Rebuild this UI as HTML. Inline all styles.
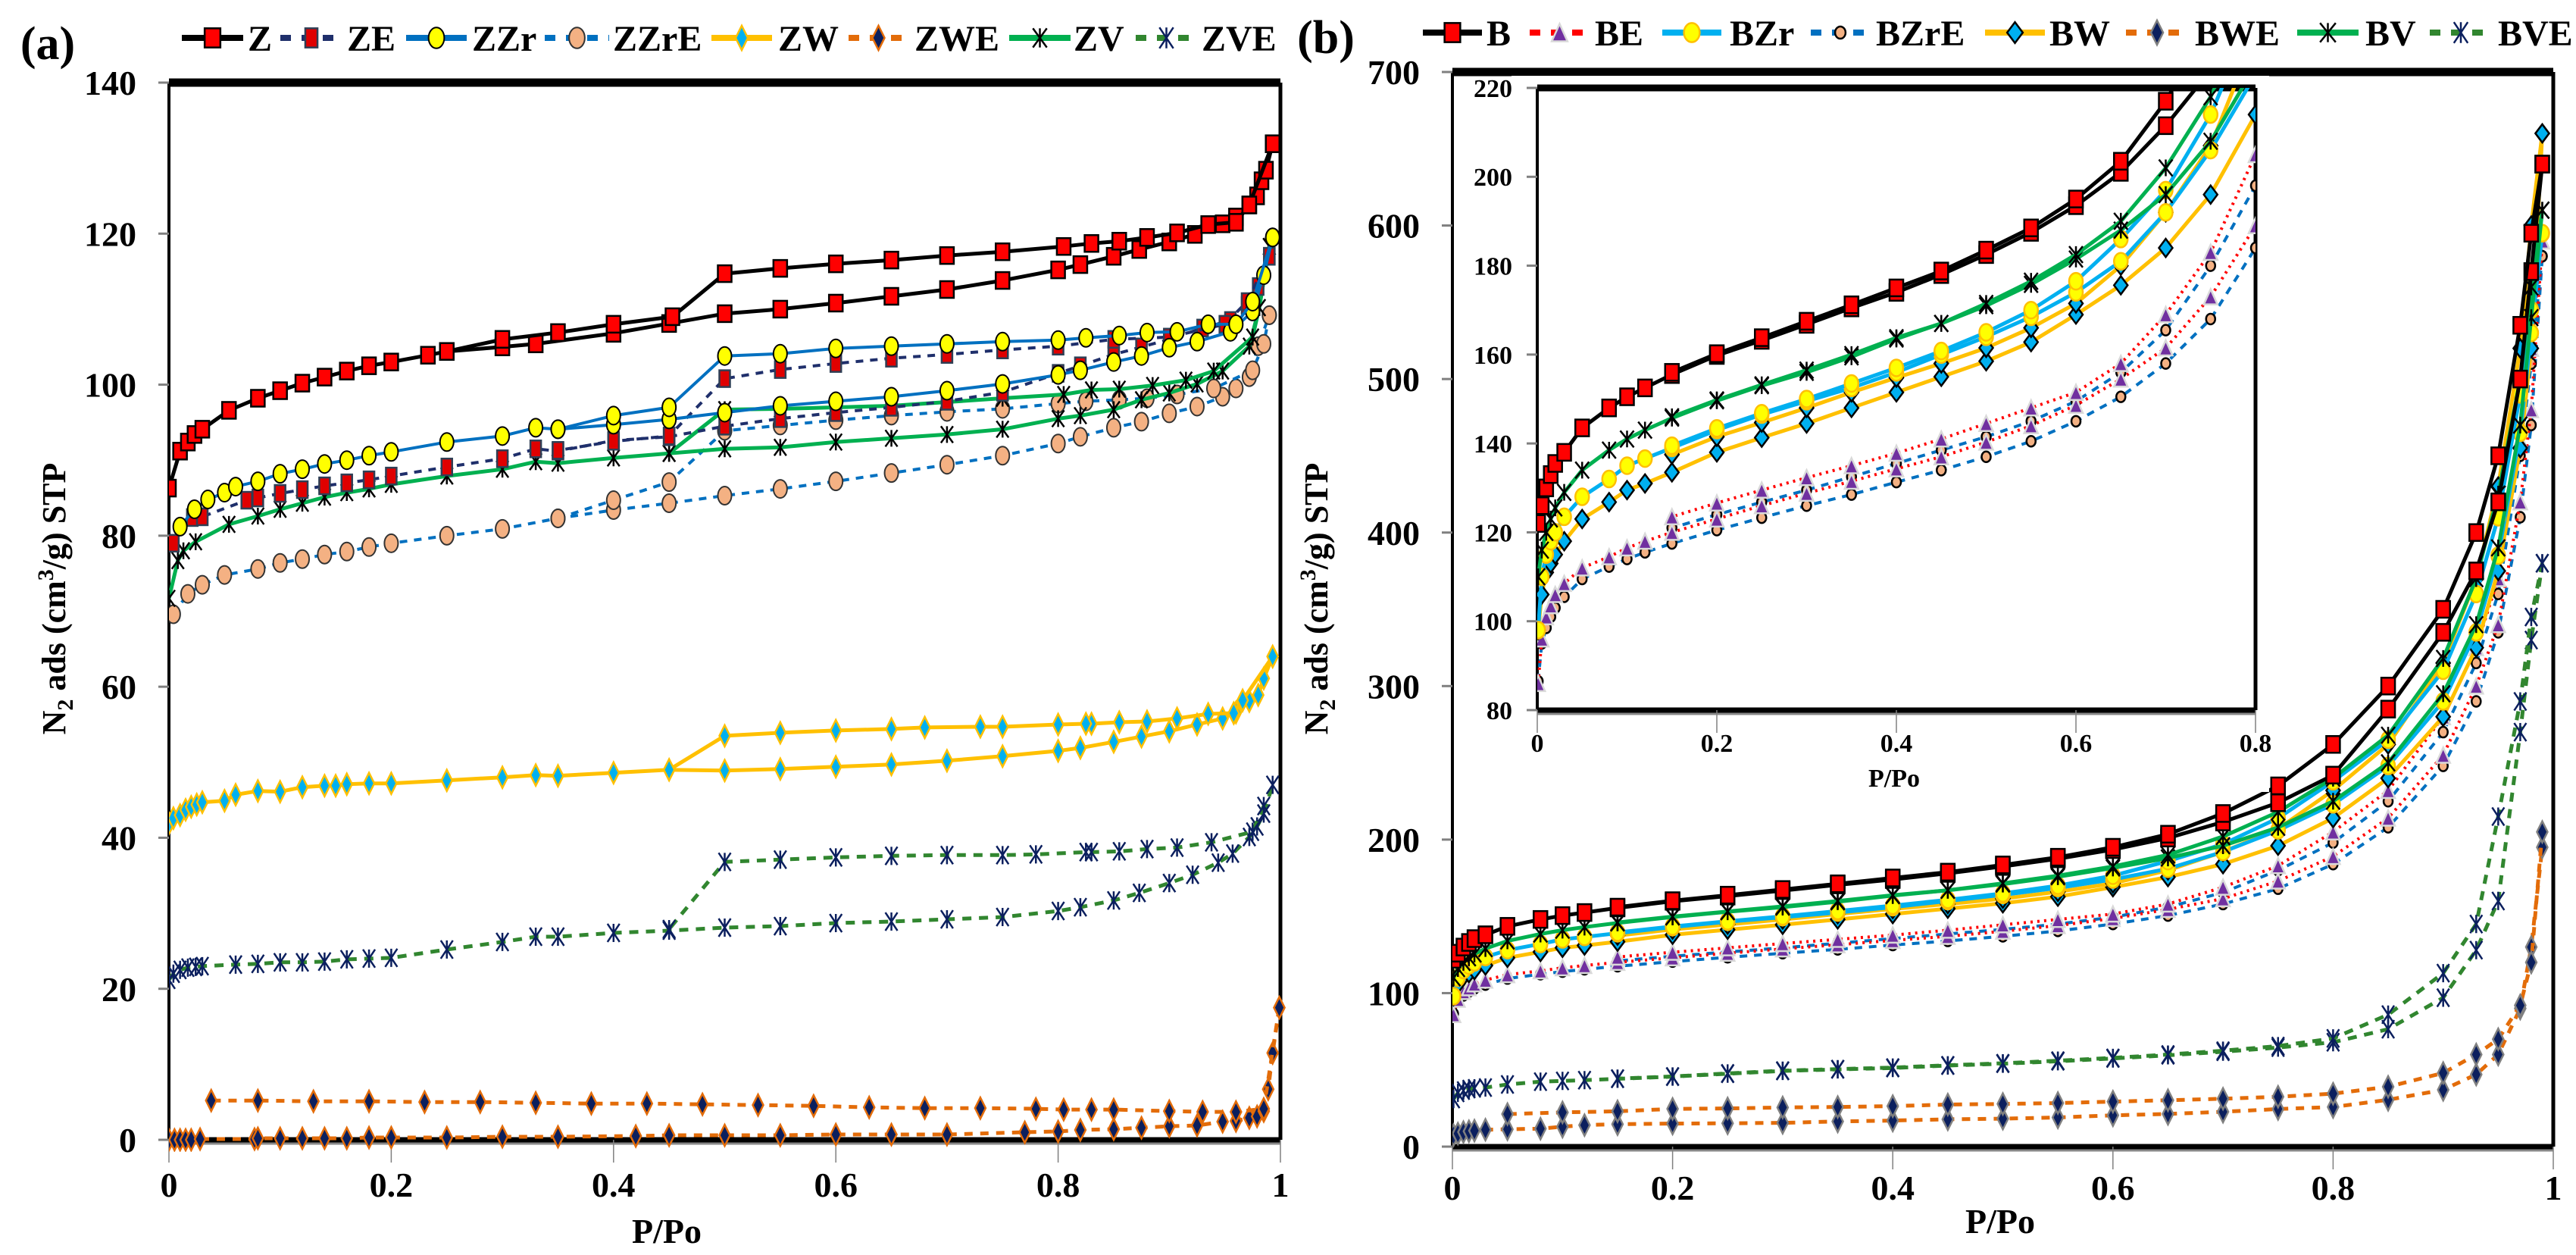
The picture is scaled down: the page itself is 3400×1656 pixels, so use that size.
<!DOCTYPE html>
<html><head><meta charset="utf-8">
<style>
html,body{margin:0;padding:0;background:#fff;}
svg{display:block;font-family:"Liberation Serif",serif;}
</style></head>
<body>
<svg id="chart" width="3400" height="1656" viewBox="0 0 3400 1656" xmlns="http://www.w3.org/2000/svg">
<defs>
<clipPath id="clipA"><rect x="223" y="100" width="1480" height="1420"/></clipPath>
<clipPath id="clipB"><rect x="1917" y="95" width="1460" height="1425"/></clipPath>
<clipPath id="clipI"><rect x="2029" y="116" width="948" height="821"/></clipPath>
</defs>
<g id="layer"></g>
</svg>
<script>
// ---------- Panel (a) data ----------
const zAdsP=[0,0.01,0.017,0.023,0.03,0.054,0.08,0.1,0.12,0.14,0.16,0.18,0.2,0.233,0.25,0.3,0.33,0.4,0.45,0.5,0.55,0.6,0.65,0.7,0.75,0.8,0.82,0.85,0.873,0.9,0.923,0.948,0.96,0.972,0.979,0.983,0.987,0.993];
const zAdsV=[86.3,91.2,92.4,93.4,94.1,96.6,98.2,99.2,100.2,101,101.8,102.5,103,103.9,104.4,105,105.4,106.8,108.1,109.4,110,110.8,111.7,112.6,113.8,115.2,115.9,117,117.9,118.9,119.9,121.3,122.2,123.8,125,127,128.4,131.9];
const zDesP=[0.993,0.972,0.96,0.935,0.907,0.88,0.855,0.83,0.805,0.75,0.7,0.65,0.6,0.55,0.5,0.453,0.4,0.35,0.3,0.25];
const zDesV=[131.9,123.8,121.5,121.2,120.1,119.5,119,118.7,118.3,117.6,117.1,116.5,116,115.4,114.7,109,108,106.9,106,104.4];
const zeAdsP=[0.004,0.021,0.03,0.07,0.08,0.1,0.12,0.14,0.16,0.18,0.2,0.25,0.3,0.33,0.35,0.4,0.45,0.5,0.55,0.6,0.65,0.7,0.75,0.8,0.82,0.85,0.875,0.9,0.93,0.955,0.97,0.98,0.99];
const zeAdsV=[79,82.4,82.5,84.7,85,85.6,86.1,86.6,87,87.4,87.9,89.1,90.2,91.5,91.2,92.6,93.1,94.5,95.5,96.3,97,97.8,99,101.5,102.5,104,105,106,107.5,108.5,110.5,113,117];
const zeDesP=[0.99,0.97,0.95,0.9,0.85,0.8,0.75,0.7,0.65,0.6,0.55,0.5,0.45,0.4,0.35];
const zeDesV=[117,111,108,106.3,106,105.1,104.6,104,103.5,102.8,102,100.8,93.2,92.5,91.3];
const zzrAdsP=[0.01,0.023,0.035,0.05,0.06,0.08,0.1,0.12,0.14,0.16,0.18,0.2,0.25,0.3,0.33,0.35,0.4,0.45,0.5,0.55,0.6,0.65,0.7,0.75,0.8,0.82,0.85,0.875,0.9,0.925,0.955,0.975,0.985,0.993];
const zzrAdsV=[81.2,83.5,84.8,85.7,86.5,87.2,88.2,88.8,89.5,90,90.6,91.1,92.4,93.2,94.3,94.1,94.7,95.4,96.3,97.2,97.8,98.4,99.2,100.1,101.3,101.9,103,103.8,104.9,105.7,107,109.7,114.5,119.5];
const zzrDesP=[0.993,0.975,0.96,0.935,0.907,0.88,0.855,0.825,0.8,0.75,0.7,0.65,0.6,0.55,0.5,0.45,0.4,0.35];
const zzrDesV=[119.5,111,108,108,107,106.9,106.5,106.2,105.9,105.7,105.4,105.1,104.8,104.1,103.8,97,95.9,94.1];
const zzreAdsP=[0.004,0.017,0.03,0.05,0.08,0.1,0.12,0.14,0.16,0.18,0.2,0.25,0.3,0.35,0.4,0.45,0.5,0.55,0.6,0.65,0.7,0.75,0.8,0.82,0.85,0.875,0.9,0.925,0.948,0.96,0.972,0.98,0.99];
const zzreAdsV=[69.6,72.3,73.5,74.8,75.6,76.4,76.9,77.5,77.9,78.5,79,80,80.9,82.3,83.4,84.3,85.3,86.2,87.2,88.3,89.4,90.6,92.2,93.1,94.3,95.1,96.2,97.1,98.4,99.5,101,105.1,109.2];
const zzreDesP=[0.99,0.985,0.975,0.94,0.907,0.88,0.855,0.825,0.8,0.75,0.7,0.65,0.6,0.55,0.5,0.45,0.4,0.35];
const zzreDesV=[109.2,105.4,101.9,99.5,98.7,98.2,98,97.8,97.5,96.8,96.4,95.9,95.3,94.6,93.9,87.1,84.7,82.3];
const zwAdsP=[0,0.004,0.01,0.015,0.02,0.025,0.03,0.05,0.06,0.08,0.1,0.12,0.14,0.15,0.16,0.18,0.2,0.25,0.3,0.33,0.35,0.4,0.45,0.5,0.55,0.6,0.65,0.7,0.75,0.8,0.82,0.85,0.875,0.9,0.925,0.948,0.96,0.972,0.98,0.985,0.993];
const zwAdsV=[41.9,42.6,43,43.7,44.1,44.4,44.7,44.9,45.7,46.2,46.1,46.7,46.9,46.9,47.1,47.2,47.2,47.6,48,48.3,48.2,48.6,49,48.9,49.1,49.4,49.7,50.2,50.8,51.5,51.9,52.7,53.4,54.1,55,55.8,56.6,58.1,58.9,61.1,64];
const zwDesP=[0.993,0.966,0.958,0.935,0.907,0.88,0.855,0.83,0.825,0.8,0.75,0.73,0.68,0.65,0.6,0.55,0.5,0.45];
const zwDesV=[64,58.2,56.5,56.4,55.8,55.4,55.3,55.1,55.1,55,54.7,54.7,54.6,54.4,54.2,53.9,53.5,49];
const zweAdsP=[0,0.005,0.01,0.015,0.02,0.028,0.077,0.08,0.1,0.12,0.14,0.16,0.18,0.2,0.25,0.3,0.35,0.42,0.45,0.5,0.55,0.6,0.65,0.7,0.77,0.8,0.82,0.85,0.875,0.9,0.925,0.948,0.96,0.972,0.979,0.985,0.989,0.993,0.999];
const zweAdsV=[0,0,0,0,0,0.1,0.1,0.2,0.2,0.2,0.2,0.2,0.3,0.3,0.3,0.4,0.4,0.5,0.6,0.6,0.6,0.7,0.7,0.7,1,1.1,1.3,1.4,1.6,1.8,1.9,2.4,2.5,2.9,3.1,3.8,6.7,11.5,17.5];
const zweDesP=[0.999,0.985,0.96,0.93,0.9,0.85,0.83,0.805,0.78,0.73,0.68,0.63,0.58,0.53,0.48,0.43,0.38,0.33,0.28,0.23,0.18,0.13,0.08,0.038];
const zweDesV=[17.5,4.1,3.7,3.7,3.8,4,4,4,4.1,4.2,4.2,4.3,4.5,4.6,4.7,4.8,4.8,4.9,5,5,5.1,5.1,5.2,5.2];
const zvAdsP=[0,0.008,0.013,0.024,0.054,0.08,0.1,0.12,0.14,0.16,0.18,0.2,0.25,0.3,0.33,0.35,0.4,0.45,0.5,0.55,0.6,0.65,0.7,0.75,0.8,0.82,0.85,0.875,0.9,0.925,0.948,0.972,0.981,0.99];
const zvAdsV=[71.7,76.7,78,79.2,81.5,82.6,83.5,84.3,85.1,85.7,86.2,86.8,87.9,88.8,89.8,89.6,90.3,90.9,91.5,91.7,92.4,92.9,93.4,94.1,95.5,95.9,96.7,98,98.9,100.1,101.8,105.1,110.2,118.3];
const zvDesP=[0.99,0.981,0.975,0.94,0.915,0.885,0.855,0.83,0.805,0.75,0.7,0.65,0.6,0.55,0.5,0.45];
const zvDesV=[118.3,110.2,106.3,101.8,100.6,99.9,99.4,99.3,98.7,98.2,97.7,97.2,97,96.8,96.7,90.9];
const zveAdsP=[0,0.004,0.01,0.017,0.024,0.03,0.06,0.08,0.1,0.12,0.14,0.16,0.18,0.2,0.25,0.3,0.33,0.35,0.4,0.45,0.5,0.55,0.6,0.65,0.7,0.75,0.8,0.82,0.85,0.873,0.9,0.921,0.944,0.957,0.972,0.979,0.985,0.993];
const zveAdsV=[21.2,22,22.5,22.8,22.9,23,23.2,23.3,23.5,23.5,23.6,23.9,24,24.1,25.2,26.2,26.9,26.9,27.4,27.7,28.1,28.3,28.7,28.9,29.2,29.5,30.3,30.8,31.7,32.7,34,35.1,36.7,37.9,40.1,41.5,43.2,47];
const zveDesP=[0.985,0.975,0.938,0.907,0.88,0.855,0.83,0.825,0.78,0.75,0.7,0.65,0.6,0.55,0.5,0.45];
const zveDesV=[44.2,40.8,39.4,38.7,38.5,38.2,38.1,38.1,37.8,37.7,37.7,37.6,37.4,37.1,36.8,27.9];

// ---------- Panel (b) data ----------
const pA=[0.001,0.005,0.01,0.015,0.02,0.03,0.05,0.08,0.1,0.12,0.15,0.2,0.25,0.3,0.35,0.4,0.45,0.5,0.55,0.6,0.65,0.7,0.75,0.8,0.85,0.9,0.93,0.95,0.97,0.98,0.99];
const pD=[0.99,0.98,0.97,0.95,0.93,0.9,0.85,0.8,0.75,0.7,0.65,0.6,0.55,0.5,0.45,0.4,0.35,0.3,0.25,0.2,0.15];
const pDwe=[0.99,0.98,0.97,0.95,0.93,0.9,0.85,0.8,0.75,0.7,0.65,0.6,0.55,0.5,0.45,0.4,0.35,0.3,0.25,0.2,0.15,0.1,0.05];
const bAdsV=[122,126,130,133,135.5,138,143.5,148,150.5,152.5,155.5,159.8,163.2,166.8,170.5,174,178,182.5,187.5,193.5,201,211.5,224,242,285,335,375,420,500,570,640];
const bDesV=[640,595,535,450,400,350,300,262,235,217,203.5,195,188.5,183.5,178.8,175,171.2,167.5,163.8,160.2,156];
const beAdsV=[86,96,101,103.5,106,108.5,112,114.5,116.5,118,120,123,126,128.8,131.5,134.3,137,140.3,144,148.6,154.5,161.5,173,189,214,255,300,340,420,480,590];
const beDesV=[590,520,460,370,325,280,232,205,183,169,158,151.5,148,144.5,141,137.8,135,132.3,129.5,126.6,123.5];
const bzrAdsV=[98,110,115,118,120,123.5,128,132,135,136.6,139,143,146.5,149.5,152.5,156,160,164,168.5,174,181,192,206,223,248,290,335,385,465,530,595];
const bzrDesV=[595,545,490,410,360,310,265,238,214,197,186,176.5,170,165,160.8,157,153.5,150,146.8,143.4,139.5];
const bzreAdsV=[86.5,95,98.5,101,103,105.5,109.5,112.3,114,115.5,117.5,120.5,123.3,126,128.5,131.3,134,137,140.5,145,150.5,158,168,184,208,248,290,335,410,470,580];
const bzreDesV=[580,510,450,360,315,270,225,198,180,165.5,156,149.5,145,141.5,138.5,135.5,132.5,129.5,126.8,124,121];
const bwAdsV=[98,106,111,113,115,118,123,126.8,129.5,131,133.5,138,141.3,144.5,148,151.5,155,158.5,162.8,169,175.6,184,196,214,240,280,325,375,455,520,660];
const bwDesV=[660,600,520,430,370,315,262,232,207,192,180,171.5,166,161.5,158,154.8,151.5,148,144.7,141.5,137.5];
const bweAdsV=[7.5,8.5,9.5,10,10.4,11,11.3,11.7,13,14,14.6,15,15.2,15.5,16.4,17,17.8,18.2,19,20.4,21.3,22.7,24.5,25.8,30.5,37,47,60,90,130,195];
const bweDesV=[205,120,92,70,60,48,39,34.5,32.5,31.2,30.2,29.3,28.4,27.8,27.4,26.4,25.8,25.5,24.9,24.6,23,22.3,21.2];
const bvAdsV=[110,116,120,123,125.5,129,134,138.5,141,143,145.7,149.6,153,156,159.5,163.5,167,171,175.8,181.5,188,196,208,225,250,295,340,390,470,540,610];
const bvDesV=[610,560,500,425,370,318,268,240,218,202,190,182.5,176.5,171.5,167,163.8,160,156.5,153.2,149.8,146];
const bveAdsV=[31,35,36.5,37.5,38,38.5,40.5,42.3,42.8,43.3,44.2,45.6,47.5,49.3,50.3,51.2,52.8,54,55.6,57.4,59.5,61.8,64.5,68,76.5,97,128,160,270,330,380];
const bveDesV=[380,345,290,215,145,113,86,70.5,65.5,62.5,60,57.8,56,54.3,53,51.5,50.5,49.5,47.7,45.7,44.3];

// tick label arrays
const aYTicks=[0,20,40,60,80,100,120,140];
const xTicks=[0,0.2,0.4,0.6,0.8,1];
const bYTicks=[0,100,200,300,400,500,600,700];
const iYTicks=[80,100,120,140,160,180,200,220];
const iXTicks=[0,0.2,0.4,0.6,0.8];

const NS='http://www.w3.org/2000/svg';
const root=document.getElementById('layer');
function el(tag,attrs,parent){const e=document.createElementNS(NS,tag);for(const k in attrs)e.setAttribute(k,attrs[k]);(parent||root).appendChild(e);return e;}

const AX={x0:223,x1:1690,xmax:1,yb:1504,yt:109,vmin:0,vmax:140};
const BX={x0:1917,x1:3370,xmax:1,yb:1513,yt:95,vmin:0,vmax:700};
const IX={x0:2029,x1:2977,xmax:0.8,yb:937,yt:116,vmin:80,vmax:220};
function sx(ax,p){return ax.x0+p/ax.xmax*(ax.x1-ax.x0);}
function sy(ax,v){return ax.yb-(v-ax.vmin)/(ax.vmax-ax.vmin)*(ax.yb-ax.yt);}

function marker(g,m,x,y,sc){
  const s=sc||1;let e;
  if(m.t==='square'){e=el('rect',{x:x-m.w*s/2,y:y-m.h*s/2,width:m.w*s,height:m.h*s,fill:m.fill,stroke:m.stroke,'stroke-width':m.sw},g);}
  else if(m.t==='circle'){e=el('ellipse',{cx:x,cy:y,rx:m.w*s/2,ry:m.h*s/2,fill:m.fill,stroke:m.stroke,'stroke-width':m.sw},g);}
  else if(m.t==='diamond'){const a=m.w*s/2,b=m.h*s/2;e=el('polygon',{points:`${x},${y-b} ${x+a},${y} ${x},${y+b} ${x-a},${y}`,fill:m.fill,stroke:m.stroke,'stroke-width':m.sw},g);}
  else if(m.t==='triangle'){const a=m.w*s/2,b=m.h*s/2;e=el('polygon',{points:`${x},${y-b} ${x+a},${y+b} ${x-a},${y+b}`,fill:m.fill,stroke:m.stroke,'stroke-width':m.sw},g);}
  else {const a=m.w*s/2,b=m.h*s/2;e=el('path',{d:`M${x-a},${y-b}L${x+a},${y+b}M${x-a},${y+b}L${x+a},${y-b}M${x},${y-b}L${x},${y+b}`,fill:'none',stroke:m.stroke,'stroke-width':m.sw},g);}
  
  
}
function branch(g,ax,P,V,st,sc,name){
  const pts=P.map((p,i)=>sx(ax,p).toFixed(1)+','+sy(ax,V[i]).toFixed(1)).join(' ');
  const l=el('polyline',{points:pts,fill:'none',stroke:st.color,'stroke-width':st.w,'stroke-dasharray':st.dash||'none','stroke-linejoin':'round'},g);
  
  
  P.forEach((p,i)=>marker(g,st.m,sx(ax,p),sy(ax,V[i]),sc));
}

// styles
const ST={
 Z:{color:'#000',w:5,m:{t:'square',w:18,h:22,fill:'#ff0000',stroke:'#000',sw:2.5}},
 ZE:{color:'#1f2f6b',w:4,dash:'10,9',m:{t:'square',w:14,h:22,fill:'#e00000',stroke:'#2f3f55',sw:2.5}},
 ZZr:{color:'#0070c0',w:4,m:{t:'circle',w:18,h:24,fill:'#ffff00',stroke:'#000',sw:2}},
 ZZrE:{color:'#0070c0',w:4,dash:'10,9',m:{t:'circle',w:18,h:24,fill:'#f4b183',stroke:'#333',sw:2}},
 ZW:{color:'#ffc000',w:5,m:{t:'diamond',w:14,h:28,fill:'#00b0f0',stroke:'#ffc000',sw:2.5}},
 ZWE:{color:'#e36c09',w:5,dash:'11,10',m:{t:'diamond',w:14,h:28,fill:'#0b1f5e',stroke:'#e36c09',sw:2.5}},
 ZV:{color:'#00b050',w:5,m:{t:'star',w:16,h:22,stroke:'#000',sw:2.5}},
 ZVE:{color:'#31862f',w:5,dash:'12,10',m:{t:'star',w:16,h:24,stroke:'#0b1f5e',sw:2.5}},
 B:{color:'#000',w:5,m:{t:'square',w:18,h:22,fill:'#ff0000',stroke:'#000',sw:2.5}},
 BE:{color:'#ff0000',w:4,dash:'3,6',m:{t:'triangle',w:18,h:20,fill:'#7030a0',stroke:'#d9d9d9',sw:2.5}},
 BZr:{color:'#00b0f0',w:5,m:{t:'circle',w:18,h:22,fill:'#ffff00',stroke:'#ffc000',sw:2.5}},
 BZrE:{color:'#0070c0',w:4,dash:'10,9',m:{t:'circle',w:12,h:14,fill:'#f4b183',stroke:'#000',sw:2.5}},
 BW:{color:'#ffc000',w:5,m:{t:'diamond',w:18,h:24,fill:'#00b0f0',stroke:'#000',sw:2.5}},
 BWE:{color:'#e36c09',w:5,dash:'11,10',m:{t:'diamond',w:14,h:28,fill:'#0b1f5e',stroke:'#808080',sw:2.5}},
 BV:{color:'#00b050',w:5,m:{t:'star',w:18,h:22,stroke:'#000',sw:2.5}},
 BVE:{color:'#31862f',w:5,dash:'12,10',m:{t:'star',w:16,h:24,stroke:'#0b1f5e',sw:2.5}}
};

function text(x,y,s,size,anchor,name,extra){
  const t=el('text',Object.assign({x:x,y:y,'font-size':size,'font-weight':'bold','text-anchor':anchor||'middle',fill:'#000'},extra||{}));
  t.textContent=s;
  
  
  return t;
}

function frame(ax,name,thinTop){
  const g=el('g',{});
  
  
  el('line',{x1:ax.x0,y1:ax.yt,x2:ax.x1,y2:ax.yt,stroke:'#000','stroke-width':thinTop?9:11},g);
  el('line',{x1:ax.x1,y1:ax.yt,x2:ax.x1,y2:ax.yb,stroke:'#000','stroke-width':5},g);
  el('line',{x1:ax.x0,y1:ax.yt,x2:ax.x0,y2:ax.yb,stroke:'#000','stroke-width':4},g);
  el('line',{x1:ax.x0,y1:ax.yb,x2:ax.x1,y2:ax.yb,stroke:'#000','stroke-width':7},g);
  el('line',{x1:ax.x0,y1:ax.yb+5,x2:ax.x1,y2:ax.yb+5,stroke:'#888','stroke-width':3},g);
  return g;
}
function yTicks(ax,ticks,size,labelX,name){
  ticks.forEach(v=>{
    const y=sy(ax,v);
    el('line',{x1:ax.x0-14,y1:y,x2:ax.x0,y2:y,stroke:'#808080','stroke-width':3});
    text(labelX,y+size*0.35,String(v),size,'end',name);
  });
}
function xTickMarks(ax,ticks,size,labelY,name){
  ticks.forEach(p=>{
    const x=sx(ax,p);
    el('line',{x1:x,y1:ax.yb,x2:x,y2:ax.yb+30,stroke:'#808080','stroke-width':1.5});
    text(x,labelY,String(p),size,'middle',name);
  });
}

// ===== Panel (a) =====
frame(AX,'panel-a-frame');
yTicks(AX,aYTicks,46,180,'y-tick-label-a');
xTickMarks(AX,xTicks,46,1579,'x-tick-label-a');
text(880,1640,'P/Po',46,'middle','x-axis-title-a');
{const t=el('text',{x:0,y:0,'font-size':44,'font-weight':'bold','text-anchor':'middle',transform:'translate(86,790) rotate(-90)'});
 t.innerHTML='N<tspan font-size="30" dy="10">2</tspan><tspan dy="-10"> ads (cm</tspan><tspan font-size="30" dy="-16">3</tspan><tspan dy="16">/g) STP</tspan>';
 
 }
text(63,78,'(a)',62,'middle','panel-a-label');

const gA=el('g',{'clip-path':'url(#clipA)'});


const seriesA=[
 ['ZWE',zweAdsP,zweAdsV,zweDesP,zweDesV],['ZVE',zveAdsP,zveAdsV,zveDesP,zveDesV],['ZW',zwAdsP,zwAdsV,zwDesP,zwDesV],
 ['ZZrE',zzreAdsP,zzreAdsV,zzreDesP,zzreDesV],['ZV',zvAdsP,zvAdsV,zvDesP,zvDesV],['ZE',zeAdsP,zeAdsV,zeDesP,zeDesV],
 ['ZZr',zzrAdsP,zzrAdsV,zzrDesP,zzrDesV],['Z',zAdsP,zAdsV,zDesP,zDesV]];
seriesA.forEach(s=>{
  const g=el('g',{},gA);
  
  
  branch(g,AX,s[1],s[2],ST[s[0]],1,s[0].toLowerCase()+'-adsorption');
  branch(g,AX,s[3],s[4],ST[s[0]],1,s[0].toLowerCase()+'-desorption');
});

// legend helper
function legendEntry(x1,x2,tx,y,key,name){
  const g=el('g',{});
  
  
  const st=ST[key];
  el('line',{x1:x1,y1:y,x2:x2,y2:y,stroke:st.color,'stroke-width':8,'stroke-dasharray':st.dash?'14,14':'none'},g);
  marker(g,st.m,(x1+x2)/2,y,1.15);
  const t=el('text',{x:tx,y:y+17,'font-size':48,'font-weight':'bold',fill:'#000'},g);
  t.textContent=key;
}
const legA=[['Z',240,321,327],['ZE',370,452,458],['ZZr',536,616,623],['ZZrE',719,804,809],['ZW',939,1019,1027],['ZWE',1120,1199,1207],['ZV',1332,1413,1417],['ZVE',1499,1580,1586]];
legA.forEach(l=>legendEntry(l[1],l[2],l[3],50,l[0],'legend-entry-'+l[0].toLowerCase()));

// ===== Panel (b) =====
frame(BX,'panel-b-frame');
yTicks(BX,bYTicks,46,1874,'y-tick-label-b');
xTickMarks(BX,xTicks,46,1583,'x-tick-label-b');
text(2640,1627,'P/Po',46,'middle','x-axis-title-b');
{const t=el('text',{x:0,y:0,'font-size':44,'font-weight':'bold','text-anchor':'middle',transform:'translate(1752,790) rotate(-90)'});
 t.innerHTML='N<tspan font-size="30" dy="10">2</tspan><tspan dy="-10"> ads (cm</tspan><tspan font-size="30" dy="-16">3</tspan><tspan dy="16">/g) STP</tspan>';
 
 }
text(1750,70,'(b)',62,'middle','panel-b-label');

const seriesB=[
 ['BWE',bweAdsV,pDwe,bweDesV],['BVE',bveAdsV,pD,bveDesV],['BZrE',bzreAdsV,pD,bzreDesV],['BE',beAdsV,pD,beDesV],
 ['BW',bwAdsV,pD,bwDesV],['BZr',bzrAdsV,pD,bzrDesV],['BV',bvAdsV,pD,bvDesV],['B',bAdsV,pD,bDesV]];
const gB=el('g',{'clip-path':'url(#clipB)'});


seriesB.forEach(s=>{
  const g=el('g',{},gB);
  
  
  branch(g,BX,pA,s[1],ST[s[0]],1,s[0].toLowerCase()+'-adsorption');
  branch(g,BX,s[2],s[3],ST[s[0]],1,s[0].toLowerCase()+'-desorption');
});

// inset
const ib=el('rect',{x:1995,y:100,width:1000,height:945,fill:'#fff'});


frame(IX,'inset-frame',true);
yTicks(IX,iYTicks,34,1996,'inset-y-tick-label');
xTickMarks(IX,iXTicks,34,992,'inset-x-tick-label');
text(2500,1038,'P/Po',34,'middle','inset-x-axis-title');
const gI=el('g',{'clip-path':'url(#clipI)'});


seriesB.forEach(s=>{
  if(s[0]==='BWE'||s[0]==='BVE')return;
  const g=el('g',{},gI);
  
  
  branch(g,IX,pA,s[1],ST[s[0]],1,'inset-'+s[0].toLowerCase()+'-adsorption');
  branch(g,IX,s[2],s[3],ST[s[0]],1,'inset-'+s[0].toLowerCase()+'-desorption');
});

const legB=[['B',1878,1956,1962],['BE',2019,2098,2105],['BZr',2194,2272,2283],['BZrE',2390,2468,2476],['BW',2620,2699,2705],['BWE',2806,2888,2897],['BV',3032,3113,3122],['BVE',3207,3289,3297]];
legB.forEach(l=>legendEntry(l[1],l[2],l[3],43,l[0],'legend-entry-'+l[0].toLowerCase()));
</script>
</body></html>
